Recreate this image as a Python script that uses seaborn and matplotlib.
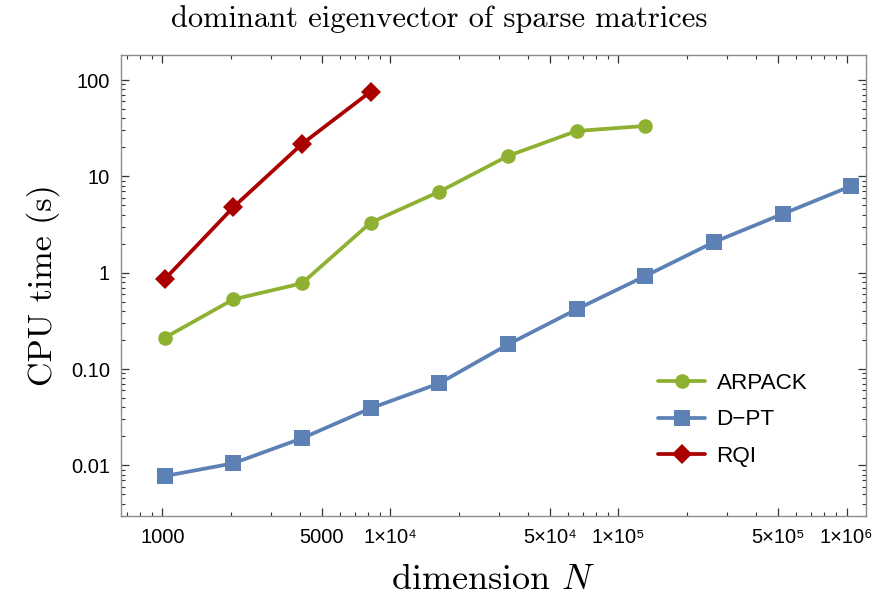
import numpy as np
import pandas as pd
import seaborn as sns
import matplotlib.pyplot as plt
from matplotlib.ticker import FixedLocator, FixedFormatter, LogLocator, NullFormatter

# matrix sizes: 2^10 ... 2^20
dims = [1024, 2048, 4096, 8192, 16384, 32768, 65536, 131072, 262144, 524288, 1048576]

arpack_t = [0.211, 0.529, 0.776, 3.31, 6.93, 16.3, 29.6, 33.4]
dpt_t = [0.00774, 0.0105, 0.0191, 0.0391, 0.0711, 0.180, 0.417, 0.924, 2.08, 4.07, 7.95]
rqi_t = [0.854, 4.78, 21.7, 75.8]

xtick_vals = [1000, 5000, 1e4, 5e4, 1e5, 5e5, 1e6]
xtick_labels = ['1000', '5000', '1×10⁴', '5×10⁴', '1×10⁵', '5×10⁵', '1×10⁶']
ytick_vals = [0.01, 0.1, 1, 10, 100]
ytick_labels = ['0.01', '0.10', '1', '10', '100']

sns.set_style('ticks')
plt.rcParams['font.family'] = ['Liberation Sans', 'DejaVu Sans']
plt.rcParams['mathtext.fontset'] = 'cm'
plt.rcParams['text.color'] = 'black'

arpack = pd.DataFrame({'N': dims[:len(arpack_t)], 't': arpack_t})
dpt = pd.DataFrame({'N': dims, 't': dpt_t})
rqi = pd.DataFrame({'N': dims[:len(rqi_t)], 't': rqi_t})

fig = plt.figure(figsize=(8.78, 5.98), dpi=100)
ax = fig.add_axes([0.1378, 0.1376, 0.8485, 0.7704])

sns.lineplot(data=arpack, x='N', y='t', ax=ax, color='#8fb131', marker='o',
             markersize=10.5, markeredgewidth=0, linewidth=2.7, label='ARPACK')
sns.lineplot(data=dpt, x='N', y='t', ax=ax, color='#5e81b5', marker='s',
             markersize=11.5, markeredgewidth=0, linewidth=2.7, label='D−PT')
sns.lineplot(data=rqi, x='N', y='t', ax=ax, color='#aa0000', marker='D',
             markersize=10, markeredgewidth=0, linewidth=2.7, label='RQI')

ax.set_xscale('log')
ax.set_yscale('log')
ax.set_xlim(659, 1.216e6)
ax.set_ylim(0.0030, 182)

ax.xaxis.set_major_locator(FixedLocator(xtick_vals))
ax.xaxis.set_major_formatter(FixedFormatter(xtick_labels))
ax.xaxis.set_minor_locator(LogLocator(base=10, subs=np.arange(1, 10), numticks=20))
ax.xaxis.set_minor_formatter(NullFormatter())
ax.yaxis.set_major_locator(FixedLocator(ytick_vals))
ax.yaxis.set_major_formatter(FixedFormatter(ytick_labels))
ax.yaxis.set_minor_locator(LogLocator(base=10, subs=np.arange(1, 10), numticks=20))
ax.yaxis.set_minor_formatter(NullFormatter())

ax.tick_params(which='both', direction='in', top=True, right=True, color='#333333',
               labelcolor='black')
ax.tick_params(which='major', length=5.5, width=0.9, labelsize=14.5)
ax.tick_params(axis='x', which='major', pad=9)
ax.tick_params(axis='y', which='major', pad=8)
ax.tick_params(which='minor', length=3, width=0.8)
for s in ax.spines.values():
    s.set_color('#8c8c8c')
    s.set_linewidth(1.0)

ax.set_xlabel('dimension $N$', fontfamily='cmr10', fontsize=26, labelpad=12, color='black')
ax.set_ylabel('CPU time (s)', fontfamily='cmr10', fontsize=24.5, labelpad=8, color='black')
fig.text(0.5, 0.968, 'dominant eigenvector of sparse matrices', fontfamily='cmr10',
         fontsize=22, ha='center', va='center', color='black')

ax.legend(loc='center left', bbox_to_anchor=(0.721, 0.208), frameon=False,
          fontsize=16.2, handlelength=2.1, handletextpad=0.5, labelspacing=0.68,
          borderpad=0, borderaxespad=0)

fig.savefig('out.png', dpi=100)
